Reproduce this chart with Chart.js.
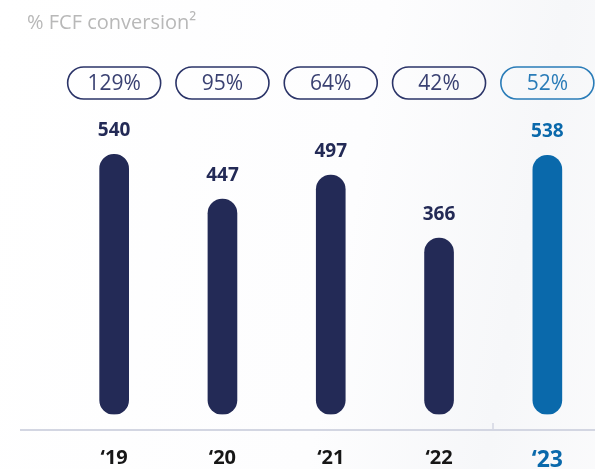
<!DOCTYPE html>
<html>
<head>
<meta charset="utf-8">
<script src="https://cdn.jsdelivr.net/npm/chart.js@4"></script>
<style>
  html, body { margin: 0; padding: 0; background: #fff; overflow: hidden; height: 469px; }
  #wrap { position: relative; width: 620px; height: 502px;
          background: linear-gradient(100deg, #ffffff 0%, #fdfdfe 55%, #f6f7f9 80%, #fbfbfc 100%); }
</style>
</head>
<body>
<div id="wrap"><canvas id="fcfChart"></canvas></div>
<script>
const years = ['‘19', '‘20', '‘21', '‘22', '‘23'];
const fcf = [540, 447, 497, 366, 538];
const conversion = ['129%', '95%', '64%', '42%', '52%'];

const NAVY = '#232a56';
const BLUE = '#0a69ab';
const last = years.length - 1;
const colorFor = i => (i === last ? BLUE : NAVY);

// title, value labels, conversion pills and the base line
const decor = {
  id: 'decor',
  afterDatasetsDraw(chart) {
    const { ctx } = chart;
    const meta = chart.getDatasetMeta(0);
    ctx.save();

    ctx.fillStyle = '#b8b8b8';
    ctx.font = '20px "Open Sans"';
    ctx.textBaseline = 'alphabetic';
    ctx.textAlign = 'left';
    ctx.fillText('% FCF conversion²', 27, 29);

    meta.data.forEach((bar, i) => {
      ctx.fillStyle = colorFor(i);
      ctx.font = 'bold 19px "Open Sans"';
      ctx.textAlign = 'center';
      ctx.textBaseline = 'middle';
      ctx.fillText(String(fcf[i]), bar.x, bar.y - 24);

      const w = 93, h = 32, cy = 83;
      const pill = i === last ? '#2a7cb8' : '#2b3468';
      ctx.beginPath();
      ctx.roundRect(bar.x - w / 2, cy - h / 2, w, h, h / 2);
      ctx.lineWidth = 1.6;
      ctx.strokeStyle = pill;
      ctx.stroke();
      ctx.fillStyle = i === last ? '#2a7cb8' : '#3a4172';
      ctx.font = '21px "Open Sans"';
      ctx.fillText(conversion[i], bar.x, cy + 1);
    });

    const base = 430;
    ctx.strokeStyle = '#d3d6e2';
    ctx.lineWidth = 2;
    ctx.beginPath();
    ctx.moveTo(20, base);
    ctx.lineTo(chart.width, base);
    ctx.stroke();
    const sx = Math.round((meta.data[last - 1].x + meta.data[last].x) / 2);
    ctx.lineWidth = 1.5;
    ctx.beginPath();
    ctx.moveTo(sx, base - 7);
    ctx.lineTo(sx, base);
    ctx.stroke();
    ctx.restore();
  }
};

new Chart(document.getElementById('fcfChart'), {
  type: 'bar',
  data: {
    labels: years,
    datasets: [{
      data: fcf,
      backgroundColor: years.map((_, i) => colorFor(i)),
      barThickness: 29,
      borderRadius: 15,
      borderSkipped: false
    }]
  },
  options: {
    responsive: true,
    maintainAspectRatio: false,
    animation: false,
    layout: { padding: { left: 60, right: 18.5, top: 125.5, bottom: 4 } },
    plugins: { legend: { display: false }, tooltip: { enabled: false } },
    scales: {
      x: {
        grid: { display: false },
        border: { display: false },
        ticks: {
          padding: 24,
          color: ctx => (ctx.index === last ? BLUE : '#161616'),
          font: ctx => ({ family: 'Open Sans', weight: 'bold', size: ctx.index === last ? 23 : 20 })
        }
      },
      y: { display: false, min: 0, max: 600 }
    }
  },
  plugins: [decor]
});
</script>
</body>
</html>
